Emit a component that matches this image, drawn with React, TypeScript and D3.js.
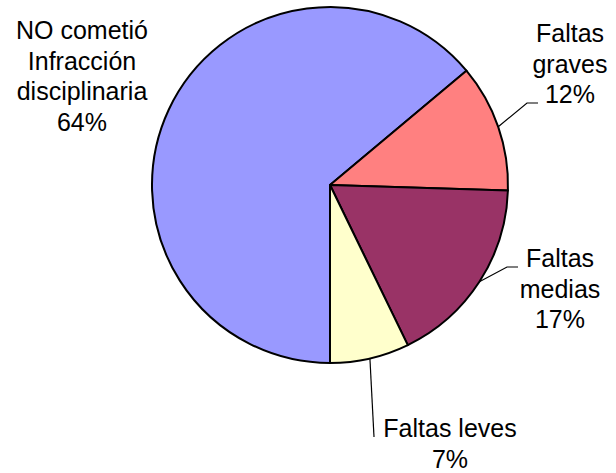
import React from "react";
import * as d3 from "d3";

const categories = ["NO cometió Infracción disciplinaria", "Faltas graves", "Faltas medias", "Faltas leves"];
const values = [63.9, 11.6, 17.3, 7.2];
const colors = ["#9999FF", "#FF8080", "#993366", "#FFFFCC"];
const labelNames = [
  ["NO cometió", "Infracción", "disciplinaria"],
  ["Faltas", "graves"],
  ["Faltas", "medias"],
  ["Faltas leves"],
];

// layout
const W = 616, H = 473;
const cx = 330, cy = 185, R = 178;
const FS = 25, LH = 30.5;
const labelPos = [
  { x: 82, y: 39, leader: null as null | number[][] },
  { x: 570, y: 42, leader: [[527, 103], [538, 103]] },
  { x: 560, y: 267, leader: [[507, 267], [518, 267]] },
  { x: 450, y: 437, leader: [[374, 437]] },
];

export default function App() {
  const total = d3.sum(values);
  const pie = d3.pie<number>().sort(null).startAngle(Math.PI).endAngle(3 * Math.PI);
  const arcs = pie(values);
  const arc = d3.arc<d3.PieArcDatum<number>>().innerRadius(0).outerRadius(R);
  return (
    <svg width={W} height={H} style={{ position: "absolute", left: 0, top: 0, background: "#fff" }}>
      <g transform={`translate(${cx},${cy})`}>
        {arcs.map((a, i) => (
          <path key={i} d={arc(a) || ""} fill={colors[i]} stroke="#000" strokeWidth={2} strokeLinejoin="round" />
        ))}
      </g>
      {arcs.map((a, i) => {
        const lp = labelPos[i];
        if (!lp.leader) return null;
        const mid = (a.startAngle + a.endAngle) / 2;
        const sx = cx + R * Math.sin(mid);
        const sy = cy - R * Math.cos(mid);
        const pts = [[sx, sy], ...lp.leader];
        return (
          <polyline key={"l" + i} points={pts.map((p) => p.join(",")).join(" ")} fill="none" stroke="#000" strokeWidth={1.2} />
        );
      })}
      {labelNames.map((names, i) => {
        const lines = [...names, `${Math.round((values[i] / total) * 100)}%`];
        return (
          <text key={"t" + i} x={labelPos[i].x} y={labelPos[i].y} textAnchor="middle"
            fontFamily="'Liberation Sans', Arial, sans-serif" fontSize={FS} fill="#000">
            {lines.map((l, j) => (
              <tspan key={j} x={labelPos[i].x} y={labelPos[i].y + j * LH}>{l}</tspan>
            ))}
          </text>
        );
      })}
    </svg>
  );
}
